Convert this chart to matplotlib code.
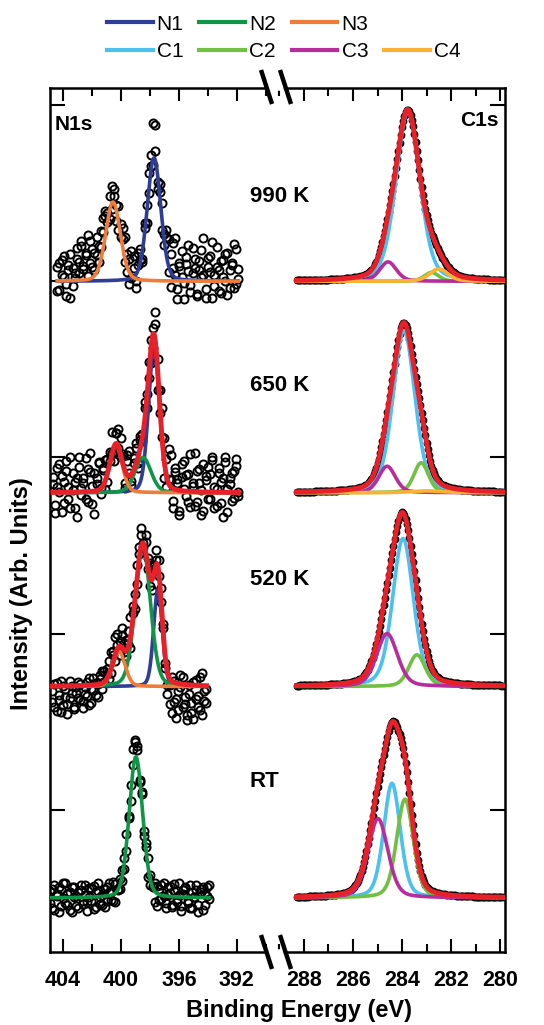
import numpy as np
import matplotlib.pyplot as plt
from matplotlib.lines import Line2D

plt.rcParams['font.family'] = ['Liberation Sans', 'DejaVu Sans']

# ---- data ---------------------------------------------------------------
temps = ['990 K', '650 K', '520 K', 'RT']
baselines = [3.0, 1.8, 0.7, -0.5]          # vertical offset of each spectrum
temp_label_y = [3.48, 2.41, 1.31, 0.16]

# N1s fit components: name -> (centre eV, height, fwhm eV)
n1s_990 = {'N1': (397.72, 0.70, 1.1), 'N3': (400.55, 0.45, 1.2)}
n1s_650 = {'N1': (397.72, 0.82, 0.9), 'N2': (398.48, 0.20, 1.3), 'N3': (400.34, 0.27, 1.0)}
n1s_520 = {'N1': (397.45, 0.55, 0.7), 'N2': (398.50, 0.80, 1.25), 'N3': (400.14, 0.20, 1.0)}
n1s_rt = {'N2': (398.97, 0.80, 1.1)}
n1s_fits = [n1s_990, n1s_650, n1s_520, n1s_rt]
n1s_envelope = [False, True, True, False]
n1s_ranges = [(404.4, 391.9), (404.7, 391.9), (404.75, 394.1), (404.9, 393.9)]

# scatter of the measured N1s points about the fit (hundredths of a unit),
# two interleaved sweeps per spectrum
noise_990 = [8, -5, 12, 2, -9, 6, 15, -3, 4,
             18, 10, 22, 6, 14, 25, 9, 16, 3, 20, 12, 7, 17, 11, 5,
             8, -4, 7, 2, -6, 5, 10, -3, 6,
             -8, 12, 3, -5, 9, 1, -7, 6, 4, -2, 8, 20,
             20, -4, 7, -6, 3, 10,
             15, -9, 4, 22, -6, 9, 1, -11, 13, 5, -3, 18, 7, -8, 11, 2, 24,
             -5, 8, 14, -10, 3, 19, 6, -7, 12, 0, 16, -4, 9, 21, -2, 7]
noise_990b = [-6, 10, 3, 14, -2, 9, -10, 7, 1,
              12, 4, 19, 8, 15, 2, 21, 6, 13, 10, 3, 16, 9, 14, 0,
              -5, 9, 3, -7, 8, -2, 4, 11, -4,
              6, -3, 10, -9, 2, 7, -5, 3, -6, 9, 2, -4,
              5, -8, 2, 9, -3, 14,
              -4, 10, 18, 1, -12, 7, 16, -2, 9, 20, -7, 4, 12, -9, 6, 17, 3,
              -10, 13, 5, 22, -3, 8, -6, 11, 2, 15, -8, 6, 10, -4, 18, 1]
noise_650 = [5, -12, 14, 0, 9, -6, 18, 3, -9, 11, 6, -14, 20, 2, 8, -4, 13, 22,
             -7, 10, 4, 16, -3, 9, 12, -5, 7, 1, -8, 6, 10, -2, 5, -10, 8, 14,
             -6, 4, 9, -3, 7, 2, 11, -5, 6, -9, 3, 17, -12, 8, 0, 13, -7, 19,
             4, -11, 10, 6, -14, 15, 1, 9, -6, 21, 3, -8, 12, 5, -13, 16, 7,
             -4, 10, 18, -9, 2, 14, -6, 8, 20, -11, 5, 11, -3, 15, 0]
noise_650b = [9, -7, 3, 16, -11, 6, 12, -4, 20, 1, -9, 8, 14, -2, 5, 19, -6, 11,
              3, -13, 7, 15, 0, 10, -5, 8, 2, 13, -3, 6, -1, 9, 4, -7, 11, 2,
              -4, 7, 12, -6, 5, -2, 8, 3, -3, 4, -8, 10, 6, -5, 16, -10, 9, 2,
              18, -7, 12, 4, -12, 8, 17, -3, 10, -9, 5, 22, -6, 13, 1, -11, 9,
              14, -4, 20, 3, -8, 11, 6, -14, 17, 2, 8, -5, 12, 19, -2]
noise_520 = [-3, -12, 2, -8, -15, 0, -6, -10, 3, -4, -13, -1, -7, 1, -9, -5, 2,
             -11, -2, 4, -6, 0, 5, -3, 6,
             3, 8, -2, 6, 10, 2, -5, 7, 4, -3, 9, 12, 5, -4, 8, 3, 6, -2, 9,
             4, -5, 7, 2, 8, -3, 5, 1, -4,
             -8, -15, 2, -11, -20, -4, 5, -13, -7, -17, 0, -10, -19, 3, -6,
             -14, 7, -9, -2]
noise_520b = [-9, 1, -14, -5, 3, -11, -2, -16, -7, 0, -12, -4, 2, -8, -13, -1,
              -6, 4, -10, -3, 1, -7, 3, 7, 0,
              6, -2, 10, 4, -4, 8, 3, 11, -1, 6, 2, -6, 9, 4, -3, 7, 10, 0, 5,
              -2, 8, -6, 4, 2, 6, -3, 3, -7,
              -13, -4, -18, 1, -9, -15, -2, 4, -11, -20, -5, -16, 2, -8, -12,
              5, -17, -3, -10]
noise_rt = [4, -6, 7, 1, -8, 5, 8, -3, 2, -7, 6, 0, -5, 3, 7, -4, 1, -8, 5, -2,
            6, -6, 3, 0, -5, 4, -3, 7, 2, -4, 5, 1, -2, 4, -3, 6, 2, -4, 3, 10,
            8, -3, 5, -2, 4, -5, 3, 1, -6, 4, -3, 6, 0, -7, 5, 2, -5, 7, -3, 1,
            -8, 4, 6, -2, -6, 3, 0, 7, -4, 5, -7, 2, 6, -1]
noise_rtb = [-3, 5, -7, 2, 6, -5, 0, 8, -4, 3, -8, 6, 1, -6, 4, -2, 7, -3, 0, 5,
             -7, 3, 8, -4, 1, -6, 5, 2, -3, 7, -5, 0, 4, -2, 3, -4, 1, 5, 12, 9,
             6, -2, 4, -5, 2, 6, -3, 0, 5, -7, 3, -2, 7, -4, 1, 6, -6, 3, -1, 8,
             -5, 2, 5, -3, 7, -6, 0, 4, -8, 3, 6, -4, 1, 7]
n1s_noise = [(noise_990, noise_990b), (noise_650, noise_650b),
             (noise_520, noise_520b), (noise_rt, noise_rtb)]

# C1s fit components
c1s_990 = {'C1': (283.76, 0.96, 1.15), 'C2': (282.80, 0.05, 0.7),
           'C3': (284.57, 0.11, 0.8), 'C4': (282.50, 0.07, 0.9)}
c1s_650 = {'C1': (283.92, 0.92, 1.05), 'C2': (283.22, 0.17, 0.7),
           'C3': (284.61, 0.15, 0.8), 'C4': (283.00, 0.01, 1.5)}
c1s_520 = {'C1': (283.96, 0.84, 1.0), 'C2': (283.39, 0.18, 0.8),
           'C3': (284.61, 0.30, 1.0)}
c1s_rt = {'C1': (284.41, 0.65, 0.8), 'C2': (283.88, 0.56, 0.8),
          'C3': (284.98, 0.45, 0.95)}
c1s_fits = [c1s_990, c1s_650, c1s_520, c1s_rt]
c1s_range = (288.3, 279.85)

colors = {'N1': '#2e3d98', 'N2': '#0f9548', 'N3': '#f07c3a',
          'C1': '#4cc0ee', 'C2': '#72c043', 'C3': '#b82d9c', 'C4': '#f9b233'}
red = '#e8202a'


def pv(x, c, h, w, eta):
    # pseudo-Voigt line shape used for the fit components
    g = np.exp(-4 * np.log(2) * ((x - c) / w) ** 2)
    l = 1 / (1 + 4 * ((x - c) / w) ** 2)
    return h * ((1 - eta) * g + eta * l)


W, H = 544, 1025


def fx(px):
    return px / W


def fy(py):
    return 1 - py / H


fig = plt.figure(figsize=(W / 100, H / 100), dpi=100)
ax_n = fig.add_axes([fx(50), fy(952), (276 - 50) / W, 864 / H])
ax_c = fig.add_axes([fx(276), fy(952), (505 - 276) / W, 864 / H])
ax_n.patch.set_visible(False)
ax_c.patch.set_visible(False)

# ---- N1s ----------------------------------------------------------------
for fit, env, (lo, hi), noises, base in zip(n1s_fits, n1s_envelope, n1s_ranges,
                                            n1s_noise, baselines):
    eta = 0.2
    for noise in noises:
        x = np.linspace(lo, hi, len(noise))
        total = sum(pv(x, *p, eta) for p in fit.values())
        ax_n.plot(x, base + total + np.array(noise) / 100, 'o', mfc='none',
                  mec='k', ms=5.8, mew=1.4, zorder=2)
    xf = np.linspace(lo, hi, 500)
    for name, p in fit.items():
        ax_n.plot(xf, base + pv(xf, *p, eta), color=colors[name], lw=2.6, zorder=3)
    if env:
        tf = sum(pv(xf, *p, eta) for p in fit.values())
        ax_n.plot(xf, base + tf, color=red, lw=3.5, zorder=4)

# ---- C1s ----------------------------------------------------------------
for fit, base in zip(c1s_fits, baselines):
    eta = 0.3
    x = np.arange(c1s_range[0], c1s_range[1], -0.05)
    total = sum(pv(x, *p, eta) for p in fit.values())
    ax_c.plot(x, base + total, 'o', mfc='none', mec='k', ms=4, mew=1.6, zorder=2)
    xf = np.linspace(c1s_range[0], c1s_range[1], 600)
    for name, p in fit.items():
        ax_c.plot(xf, base + pv(xf, *p, eta), color=colors[name], lw=2.6, zorder=3)
    tf = sum(pv(xf, *p, eta) for p in fit.values())
    ax_c.plot(xf, base + tf, color=red, lw=3.5, zorder=4)

# ---- axes styling -------------------------------------------------------
ax_n.set_xlim(404.9, 389.3)
ax_c.set_xlim(289.14, 279.8)
for ax in (ax_n, ax_c):
    ax.set_ylim(-0.807, 4.097)
    ax.set_axisbelow(True)
    for s in ax.spines.values():
        s.set_linewidth(1.8)
    ax.set_yticks(range(5))
    ax.tick_params(axis='x', which='both', direction='in', top=True, bottom=True,
                   width=1.5, pad=13)
    ax.tick_params(axis='x', which='major', length=9.5)
    ax.tick_params(axis='x', which='minor', length=5.5)
ax_n.spines['right'].set_visible(False)
ax_c.spines['left'].set_visible(False)
ax_n.tick_params(axis='y', direction='in', left=True, right=False, length=11,
                 width=1.5, labelleft=False)
ax_c.tick_params(axis='y', direction='in', left=False, right=True, length=11,
                 width=1.5, labelleft=False, labelright=False)

n_ticks = [404, 400, 396, 392]
c_ticks = [288, 286, 284, 282, 280]
ax_n.set_xticks(n_ticks, labels=[str(t) for t in n_ticks], fontsize=15.5,
                fontweight='bold')
ax_n.set_xticks([402, 398, 394, 390], minor=True)
ax_c.set_xticks(c_ticks, labels=[str(t) for t in c_ticks], fontsize=15.5,
                fontweight='bold')
ax_c.set_xticks([289, 287, 285, 283, 281], minor=True)

# panel and temperature labels
ax_n.text(404.6, 3.89, 'N1s', fontsize=15, fontweight='bold', va='center')
ax_c.text(280.05, 3.91, 'C1s', fontsize=15, fontweight='bold', va='center',
          ha='right')
for t, y in zip(temps, temp_label_y):
    ax_n.text(391.1, y, t, fontsize=16, fontweight='bold', va='center',
              clip_on=False, zorder=6)

fig.text(fx(299), fy(1011), 'Binding Energy (eV)', fontsize=17,
         fontweight='bold', ha='center', va='center')
fig.text(fx(22), fy(594), 'Intensity (Arb. Units)', fontsize=17,
         fontweight='bold', ha='center', va='center', rotation=90)

# axis break marks
for py in (88, 952):
    fig.add_artist(Line2D([fx(271), fx(281)], [fy(py), fy(py)], color='white',
                          lw=4, transform=fig.transFigure, zorder=9))
for x0 in (261, 280):
    for yc in (87, 952):
        fig.add_artist(Line2D([fx(x0), fx(x0 + 11)], [fy(yc - 17), fy(yc + 17)],
                              color='k', lw=3.2, solid_capstyle='butt',
                              transform=fig.transFigure, zorder=10))

# legend
order = ['N1', 'C1', 'N2', 'C2', 'N3', 'C3', None, 'C4']
handles, labels = [], []
for k in order:
    if k is None:
        handles.append(Line2D([], [], color='none'))
        labels.append('')
    else:
        handles.append(Line2D([], [], color=colors[k], lw=3))
        labels.append(k)
fig.legend(handles, labels, ncol=4, loc='upper left',
           bbox_to_anchor=(fx(88), fy(-4)), frameon=False, fontsize=15,
           handlelength=2.2, handletextpad=0.2, columnspacing=0.75,
           labelspacing=0.4)

fig.savefig('out.png', dpi=100)
